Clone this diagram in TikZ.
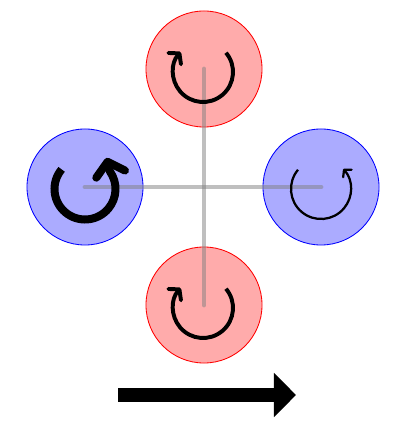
\documentclass[tikz,border=0pt]{standalone}
\usetikzlibrary{arrows.meta}
\begin{document}
\begin{tikzpicture}[x=0.025cm,y=0.025cm,
  rotor/.style={circle,draw,line width=0.6pt,minimum size=2.9cm,inner sep=0pt},
  cwrotor/.style={rotor,draw=red,fill=red!33},
  ccwrotor/.style={rotor,draw=blue,fill=blue!33},
  arm/.style={line width=3.5pt,line cap=round,gray,opacity=0.5}]
\useasboundingbox (0,0) rectangle (403,434);
\node[cwrotor] (front) at (204,365) {};
\node[ccwrotor] (left) at (85,247) {};
\node[ccwrotor] (right) at (321,247) {};
\node[cwrotor] (back) at (204,129) {};
\draw[arm] (front.center) -- (back.center);
\draw[arm] (left.center) -- (right.center);
\draw[line width=2.8pt,-{Straight Barb[length=5pt,width=12pt,round]}] (front.center) ++(-1,-3) ++(40:30) arc[start angle=40,end angle=-222,radius=30];
\draw[line width=2.8pt,-{Straight Barb[length=5pt,width=12pt,round]}] (back.center) ++(-1,-3) ++(40:30) arc[start angle=40,end angle=-222,radius=30];
\draw[line width=5.7pt,line join=round,-{Straight Barb[length=9pt,width=21pt,round]}] (left.center) ++(0,-2) ++(140:30.5) arc[start angle=140,end angle=395,radius=30.5] -- ++(104:14);
\draw[line width=1.6pt,-{Straight Barb[length=3.5pt,width=8pt,round]}] (right.center) ++(0,-2) ++(140:30) arc[start angle=140,end angle=402,radius=30];
\coordinate (tail) at (118,39);
\coordinate (head) at (296,39);
\draw[line width=9.9pt,-{Triangle[length=0.55cm,width=1.075cm]}] (tail) -- (head);
\end{tikzpicture}
\end{document}
